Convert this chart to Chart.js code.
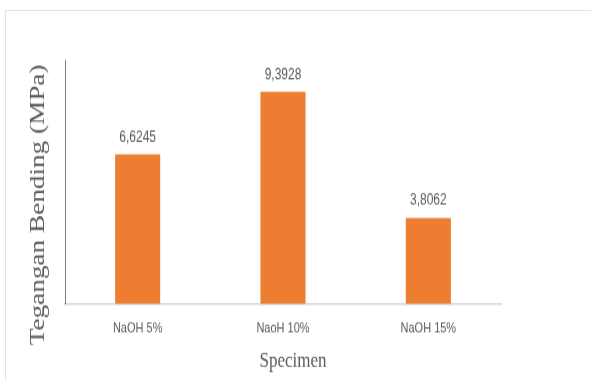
<!DOCTYPE html>
<html>
<head>
<meta charset="utf-8">
<script src="https://cdn.jsdelivr.net/npm/chart.js@4/dist/chart.umd.min.js"></script>
<style>
  html, body { margin: 0; padding: 0; background: #ffffff; }
  body { width: 591px; height: 381px; overflow: hidden; position: relative; }
  #frame {
    position: absolute; left: 5px; top: 10px; width: 620px; height: 400px;
    border-top: 1px solid #e2e2e2; border-left: 1px solid #e2e2e2;
  }
  /* the chart is laid out in a shorter box and stretched to full height */
  #wrap {
    position: absolute; left: 0; top: 0; width: 591px; height: 298px;
    transform: scaleY(1.2785); transform-origin: 0 0;
  }
</style>
</head>
<body>
<div id="frame"></div>
<div id="wrap"><canvas id="c" width="591" height="298"></canvas></div>
<script>
// Flexural strength per NaOH treatment
const categories = ['NaOH 5%', 'NaoH 10%', 'NaOH 15%'];
const strengths = [6.6245, 9.3928, 3.8062];
const axisMin = 0;
const axisMax = 10.8;

const yTitle = 'Tegangan Bending (MPa)';
const xTitle = 'Specimen';

const BAR_COLOR = '#ED7D31';
const TEXT_COLOR = '#595959';
const SANS_FAMILY = '"Liberation Sans", Arial, sans-serif';
const TITLE_FAMILY = '"Liberation Serif", "Times New Roman", serif';

// value labels above the bars, decimal comma
const valueLabels = {
  id: 'valueLabels',
  afterDatasetsDraw(chart) {
    const ctx = chart.ctx;
    const meta = chart.getDatasetMeta(0);
    ctx.save();
    ctx.fillStyle = TEXT_COLOR;
    ctx.font = '12px ' + SANS_FAMILY;
    ctx.textAlign = 'center';
    ctx.textBaseline = 'middle';
    meta.data.forEach((bar, i) => {
      const v = chart.data.datasets[0].data[i];
      ctx.fillText(v.toFixed(4).replace('.', ','), bar.x, bar.y - 13.5);
    });
    ctx.restore();
  }
};

// serif axis titles
const axisTitles = {
  id: 'axisTitles',
  afterDraw(chart) {
    const {ctx, chartArea} = chart;
    ctx.save();
    ctx.fillStyle = TEXT_COLOR;
    ctx.textAlign = 'center';
    ctx.textBaseline = 'alphabetic';

    ctx.font = '21.3px ' + TITLE_FAMILY;
    ctx.translate(chartArea.left - 21, chartArea.bottom - 77.6);
    ctx.rotate(-Math.PI / 2);
    ctx.fillText(yTitle, 0, 0);
    ctx.setTransform(1, 0, 0, 1, 0, 0);

    ctx.font = '17px ' + TITLE_FAMILY;
    ctx.fillText(xTitle, (chartArea.left + chartArea.right) / 2 + 10, chartArea.bottom + 49.3);
    ctx.restore();
  }
};

new Chart(document.getElementById('c'), {
  type: 'bar',
  data: {
    labels: categories,
    datasets: [{
      data: strengths,
      backgroundColor: BAR_COLOR,
      borderWidth: 0,
      categoryPercentage: 1,
      barPercentage: 0.31
    }]
  },
  options: {
    responsive: false,
    animation: false,
    devicePixelRatio: 1,
    layout: { padding: { left: 65, right: 90, top: 47, bottom: 21.8 } },
    plugins: { legend: { display: false }, tooltip: { enabled: false } },
    scales: {
      x: {
        grid: { display: false, drawTicks: false },
        border: { display: true, color: '#d9d9d9', width: 1.5 },
        ticks: {
          color: TEXT_COLOR,
          padding: 12.6,
          font: { family: SANS_FAMILY, size: 11 }
        }
      },
      y: {
        min: axisMin,
        max: axisMax,
        grid: { display: false, drawTicks: false },
        border: { display: true, color: '#7a7a7a', width: 1 },
        ticks: { display: false }
      }
    }
  },
  plugins: [valueLabels, axisTitles]
});
</script>
</body>
</html>
